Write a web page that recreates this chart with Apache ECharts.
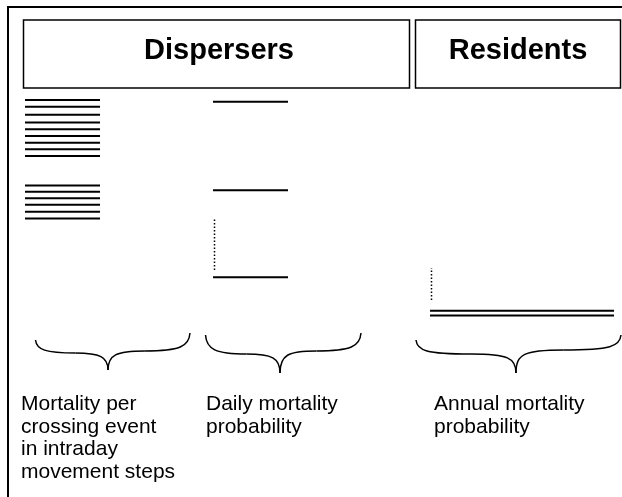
<!DOCTYPE html>
<html>
<head>
<meta charset="utf-8">
<script src="https://cdn.jsdelivr.net/npm/echarts@6/dist/echarts.min.js"></script>
<style>
  html, body { margin: 0; padding: 0; background: #fff; }
  #chart { width: 622px; height: 497px; }
</style>
</head>
<body>
<div id="chart"></div>
<script>
// relative mortality level, 0 = bottom of scale, 100 = top
const crossingLevels = [100, 96.9, 93.3, 89.8, 86.7, 83.6, 80.6, 77.6, 74.5,
                        61.1, 58.3, 55.3, 52.4, 49.2, 46.1];
const dailyLevels = [99.2, 59.0, 19.4];
const dailyRange = [22.7, 45.8];
const annualLevels = [4.2, 2.0];
const annualRange = [9.1, 23.6];

const groupTitles = ["Dispersers", "Residents"];
const columnLabels = [
  "Mortality per\ncrossing event\nin intraday\nmovement steps",
  "Daily mortality\nprobability",
  "Annual mortality\nprobability"
];

const FONT = '"Liberation Sans", Arial, sans-serif';

// one hidden grid per column, same vertical scale
const grids = [
  { left: 25, width: 75 },
  { left: 213, width: 75 },
  { left: 430, width: 184 }
].map(g => Object.assign({ top: 100, height: 220 }, g));

function levelSeries(idx, levels) {
  return {
    type: "custom",
    xAxisIndex: idx,
    yAxisIndex: idx,
    data: levels.map(v => [0, v]),
    renderItem: (params, api) => {
      const a = api.coord([0, api.value(1)]);
      const b = api.coord([1, api.value(1)]);
      return {
        type: "line",
        shape: { x1: a[0], y1: a[1], x2: b[0], y2: b[1] },
        style: { stroke: "#000", lineWidth: 2 }
      };
    }
  };
}

function rangeSeries(idx, range) {
  return {
    type: "custom",
    xAxisIndex: idx,
    yAxisIndex: idx,
    data: [[0, range[0], range[1]]],
    renderItem: (params, api) => {
      const a = api.coord([0, api.value(1)]);
      const b = api.coord([0, api.value(2)]);
      return {
        type: "line",
        shape: { x1: a[0] + 1.5, y1: a[1], x2: b[0] + 1.5, y2: b[1] },
        style: { stroke: "#000", lineWidth: 1.5, lineDash: [1.5, 2] }
      };
    }
  };
}

// curly brace as four bezier pieces: ends (x0,y0) (x1,y1), tip (tx,ty), shoulders s0 / s1
function brace(x0, y0, x1, y1, tx, ty, s0, s1) {
  const m0 = x0 + 0.55 * (tx - x0);
  const m1 = tx + 0.45 * (x1 - tx);
  const pieces = [
    [x0, y0, x0 + 1, y0 + 0.75 * (s0 - y0), x0 + 10, s0, m0, s0],
    [m0, s0, tx - 8, s0, tx, s0 + 4, tx, ty],
    [tx, ty, tx, s1 + 4, tx + 8, s1, m1, s1],
    [m1, s1, x1 - 10, s1, x1 - 1, y1 + 0.75 * (s1 - y1), x1, y1]
  ];
  return pieces.map(p => ({
    type: "bezierCurve",
    shape: { x1: p[0], y1: p[1], cpx1: p[2], cpy1: p[3], cpx2: p[4], cpy2: p[5], x2: p[6], y2: p[7] },
    style: { fill: null, stroke: "#000", lineWidth: 1.5 }
  }));
}

function label(x, text) {
  return {
    type: "text", x: x, y: 393,
    style: { text: text, font: "21px " + FONT, lineHeight: 22.5, fill: "#000",
             align: "left", verticalAlign: "top" }
  };
}

const chart = echarts.init(document.getElementById("chart"), null, { renderer: "canvas" });

chart.setOption({
  animation: false,
  backgroundColor: "#fff",
  grid: grids,
  xAxis: grids.map((g, i) => ({ type: "value", gridIndex: i, min: 0, max: 1, show: false })),
  yAxis: grids.map((g, i) => ({ type: "value", gridIndex: i, min: 0, max: 100, show: false })),
  series: [
    levelSeries(0, crossingLevels),
    levelSeries(1, dailyLevels),
    rangeSeries(1, dailyRange),
    levelSeries(2, annualLevels),
    rangeSeries(2, annualRange)
  ],
  graphic: [
    // outer frame (runs off the right and bottom)
    { type: "rect", shape: { x: 8, y: 7, width: 700, height: 600 },
      style: { fill: null, stroke: "#000", lineWidth: 2 } },
    { type: "rect", shape: { x: 23.5, y: 20, width: 386, height: 68 },
      style: { fill: null, stroke: "#000", lineWidth: 1.5 } },
    { type: "rect", shape: { x: 415.5, y: 20, width: 205, height: 68 },
      style: { fill: null, stroke: "#000", lineWidth: 1.5 } },
    { type: "text", x: 219, y: 51,
      style: { text: groupTitles[0], font: "bold 29px " + FONT, fill: "#000",
               align: "center", verticalAlign: "middle" } },
    { type: "text", x: 518, y: 51,
      style: { text: groupTitles[1], font: "bold 29px " + FONT, fill: "#000",
               align: "center", verticalAlign: "middle" } },
    ...brace(35.5, 340, 190, 333, 108, 370, 353, 351),
    ...brace(205.5, 335, 361, 333, 280, 373, 354, 351),
    ...brace(416, 340, 621, 335, 516, 373, 354, 350),
    label(21, columnLabels[0]),
    label(206, columnLabels[1]),
    label(434, columnLabels[2])
  ]
});
</script>
</body>
</html>
